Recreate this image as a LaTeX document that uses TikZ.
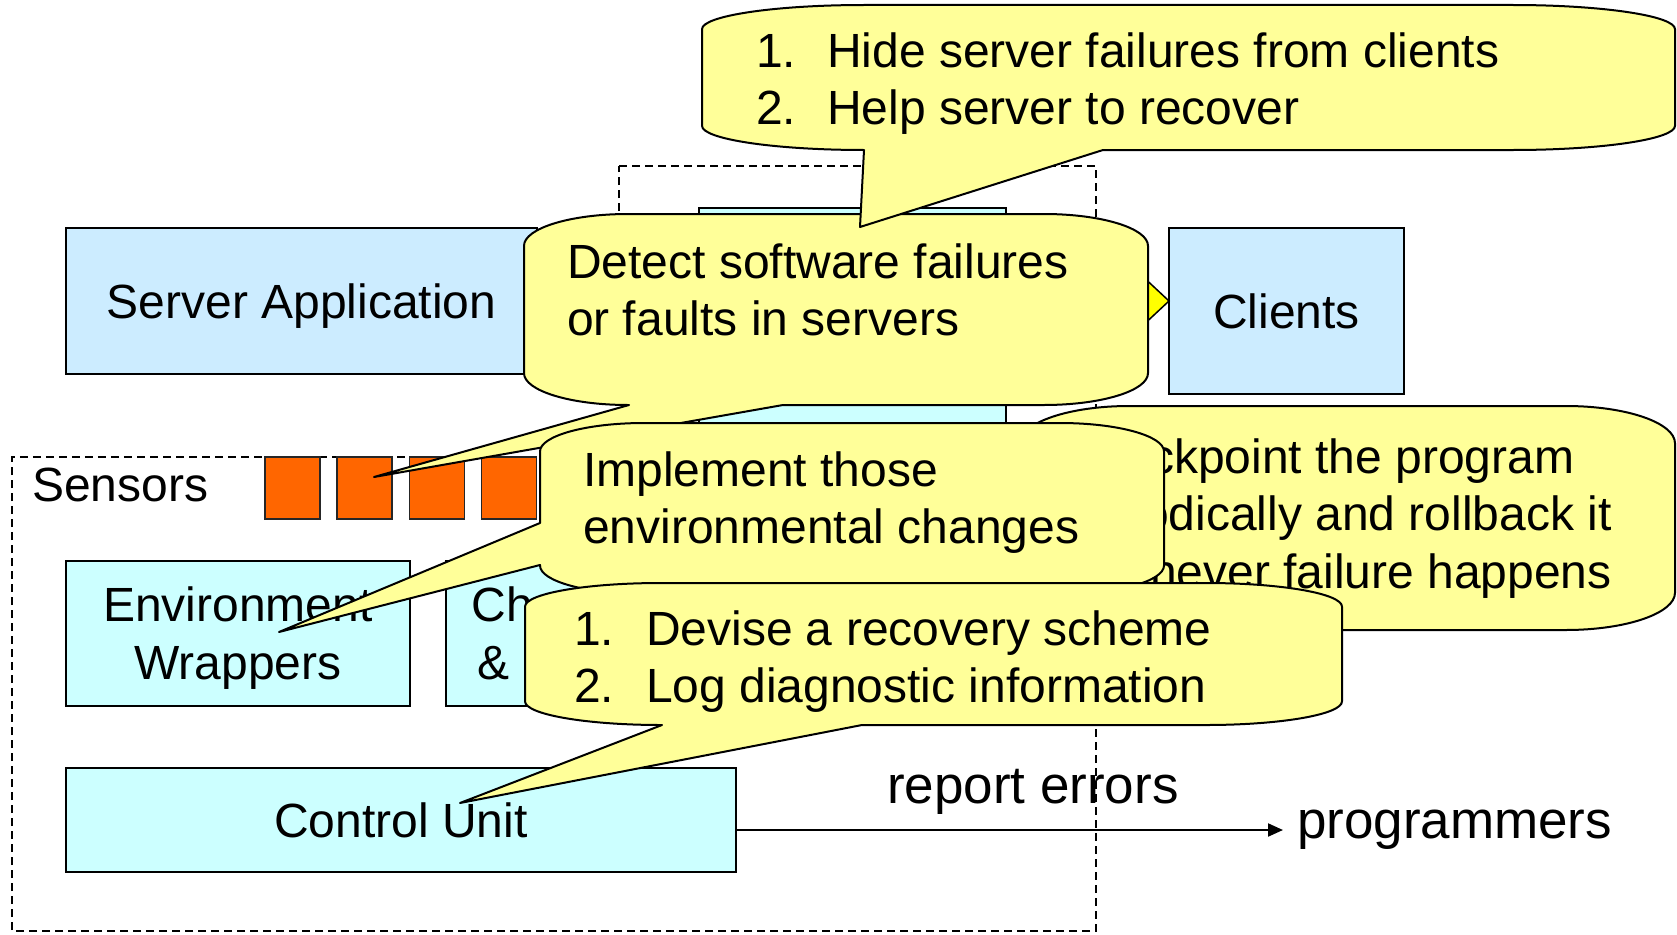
\documentclass[tikz,border=0pt]{standalone}
\usepackage{fontspec}
\setmainfont{Liberation Sans}
\usetikzlibrary{arrows.meta}
\definecolor{appBlue}{RGB}{204,236,255}
\definecolor{partCyan}{RGB}{204,255,255}
\definecolor{noteYellow}{RGB}{255,255,153}
\definecolor{sensorOrange}{RGB}{255,102,0}
\definecolor{flowYellow}{RGB}{255,255,0}

\newcommand\bubbleCorners[4]{%
  \pgfmathsetmacro\bubX{(#3-#1)/6}%
  \pgfmathsetmacro\bubY{(#4-#2)/6}%
  \pgfmathsetmacro\bubKX{0.4477*\bubX}%
  \pgfmathsetmacro\bubKY{0.4477*\bubY}%
}
% L T R B baseLeft baseRight tipx tipy
\newcommand\bubbleBottom[8]{%
  \bubbleCorners{#1}{#2}{#3}{#4}%
  \draw[bubble] ({#1+\bubX},#2) -- ({#3-\bubX},#2)
    .. controls ({#3-\bubKX},#2) and (#3,{#2+\bubKY}) .. (#3,{#2+\bubY})
    -- (#3,{#4-\bubY})
    .. controls (#3,{#4-\bubKY}) and ({#3-\bubKX},#4) .. ({#3-\bubX},#4)
    -- (#6,#4) -- (#7,#8) -- (#5,#4) -- ({#1+\bubX},#4)
    .. controls ({#1+\bubKX},#4) and (#1,{#4-\bubKY}) .. (#1,{#4-\bubY})
    -- (#1,{#2+\bubY})
    .. controls (#1,{#2+\bubKY}) and ({#1+\bubKX},#2) .. ({#1+\bubX},#2)
    -- cycle;
}
% L T R B baseUpper baseLower tipx tipy
\newcommand\bubbleLeft[8]{%
  \bubbleCorners{#1}{#2}{#3}{#4}%
  \draw[bubble] ({#1+\bubX},#2) -- ({#3-\bubX},#2)
    .. controls ({#3-\bubKX},#2) and (#3,{#2+\bubKY}) .. (#3,{#2+\bubY})
    -- (#3,{#4-\bubY})
    .. controls (#3,{#4-\bubKY}) and ({#3-\bubKX},#4) .. ({#3-\bubX},#4)
    -- ({#1+\bubX},#4)
    .. controls ({#1+\bubKX},#4) and (#1,{#4-\bubKY}) .. (#1,{#4-\bubY})
    -- (#1,#6) -- (#7,#8) -- (#1,#5)
    -- (#1,{#2+\bubY})
    .. controls (#1,{#2+\bubKY}) and ({#1+\bubKX},#2) .. ({#1+\bubX},#2)
    -- cycle;
}
% L T R B
\newcommand\bubblePlain[4]{%
  \bubbleCorners{#1}{#2}{#3}{#4}%
  \draw[bubble] ({#1+\bubX},#2) -- ({#3-\bubX},#2)
    .. controls ({#3-\bubKX},#2) and (#3,{#2+\bubKY}) .. (#3,{#2+\bubY})
    -- (#3,{#4-\bubY})
    .. controls (#3,{#4-\bubKY}) and ({#3-\bubKX},#4) .. ({#3-\bubX},#4)
    -- ({#1+\bubX},#4)
    .. controls ({#1+\bubKX},#4) and (#1,{#4-\bubKY}) .. (#1,{#4-\bubY})
    -- (#1,{#2+\bubY})
    .. controls (#1,{#2+\bubKY}) and ({#1+\bubKX},#2) .. ({#1+\bubX},#2)
    -- cycle;
}

\begin{document}
\begin{tikzpicture}[x=1pt,y=-1pt,
  every node/.style={inner sep=0pt, outer sep=0pt, font=\fontsize{48}{57.5}\selectfont},
  box/.style={draw=black, line width=2pt, text height=34pt, text depth=0pt},
  zone/.style={draw=black, line width=1.5pt, dash pattern=on 8pt off 5pt},
  bubble/.style={draw=black, fill=noteYellow, line width=2pt, line join=round},
  sensorbox/.style={draw=black!85, fill=sensorOrange, line width=1.5pt, minimum width=55pt, minimum height=62pt},
  note/.style={anchor=base west, align=left},
  flow/.style={draw=black, line width=2pt, -{Triangle[length=15pt,width=13pt]}},
  blockarrow/.style={draw=black, fill=flowYellow, line width=1.5pt, line join=miter}]
\useasboundingbox (0,0) rectangle (1677,934);
\fill[white] (0,0) rectangle (1677,934);

% dashed boundary of the recovery layer
\draw[zone] (619,166) -- (1096,166) -- (1096,931) -- (12,931) -- (12,457) -- (619,457) -- cycle;

% components
\node[box, fill=appBlue, minimum width=471pt, minimum height=146pt] (server) at (301.5,301) {Server Application};
\node[box, fill=partCyan, minimum width=307pt, minimum height=242pt] (monitor) at (852.5,329) {};
\node[box, fill=appBlue, minimum width=235pt, minimum height=166pt] (clients) at (1286.5,311) {Clients};

\node[anchor=base west] (sensors) at (32,501) {Sensors};
\node[sensorbox] (s1) at (292.5,488) {};
\node[sensorbox] (s2) at (364.5,488) {};
\node[sensorbox] (s3) at (437,488) {};
\node[sensorbox] (s4) at (509,488) {};

\node[box, fill=partCyan, minimum width=344pt, minimum height=145pt, align=center, text height=91.5pt] (env) at (238,633.5) {Environment\\Wrappers};
\node[box, fill=partCyan, minimum width=292pt, minimum height=145pt, align=center, text height=91.5pt] (ckpt) at (592,633.5) {Checkpoint\\\& Rollback};
\node[box, fill=partCyan, minimum width=670pt, minimum height=104pt] (control) at (401,820) {Control Unit};

% yellow block arrow towards the clients
\draw[blockarrow] (1006,289) -- (1139,289) -- (1139,273) -- (1169,301) -- (1139,329) -- (1139,313) -- (1006,313) -- cycle;

% report errors
\node[anchor=west, inner xsep=14pt, font=\fontsize{53}{60}\selectfont] (prog) at (1283,830) {programmers};
\draw[flow] (control.east |- prog.west) -- (prog.west);
\node[anchor=base west, font=\fontsize{53}{60}\selectfont] (report) at (887,803) {report errors};

% callouts
\bubblePlain{1020}{406}{1675}{630}
\node[note] (checkText) at (1062,588) {Checkpoint the program\\periodically and rollback it\\whenever failure happens};

\bubbleBottom{524}{214}{1148}{405}{629}{783}{374}{477}
\node[note] (detectText) at (567,335.5) {Detect software failures\\or faults in servers};

\bubbleBottom{702}{5}{1675}{150}{864}{1103}{860}{227}
\node[note] (hideText) at (756,124.5) {\makebox[71pt][l]{1.}Hide server failures from clients\\\makebox[71pt][l]{2.}Help server to recover};

\bubbleLeft{540}{423}{1164}{594}{523}{565}{279}{632}
\node[note] (implText) at (583,543.5) {Implement those\\environmental changes};

\bubbleBottom{525}{583}{1342}{725}{662}{862}{460}{803}
\node[note] (deviseText) at (574,702.5) {\makebox[72pt][l]{1.}Devise a recovery scheme\\\makebox[72pt][l]{2.}Log diagnostic information};
\end{tikzpicture}
\end{document}
